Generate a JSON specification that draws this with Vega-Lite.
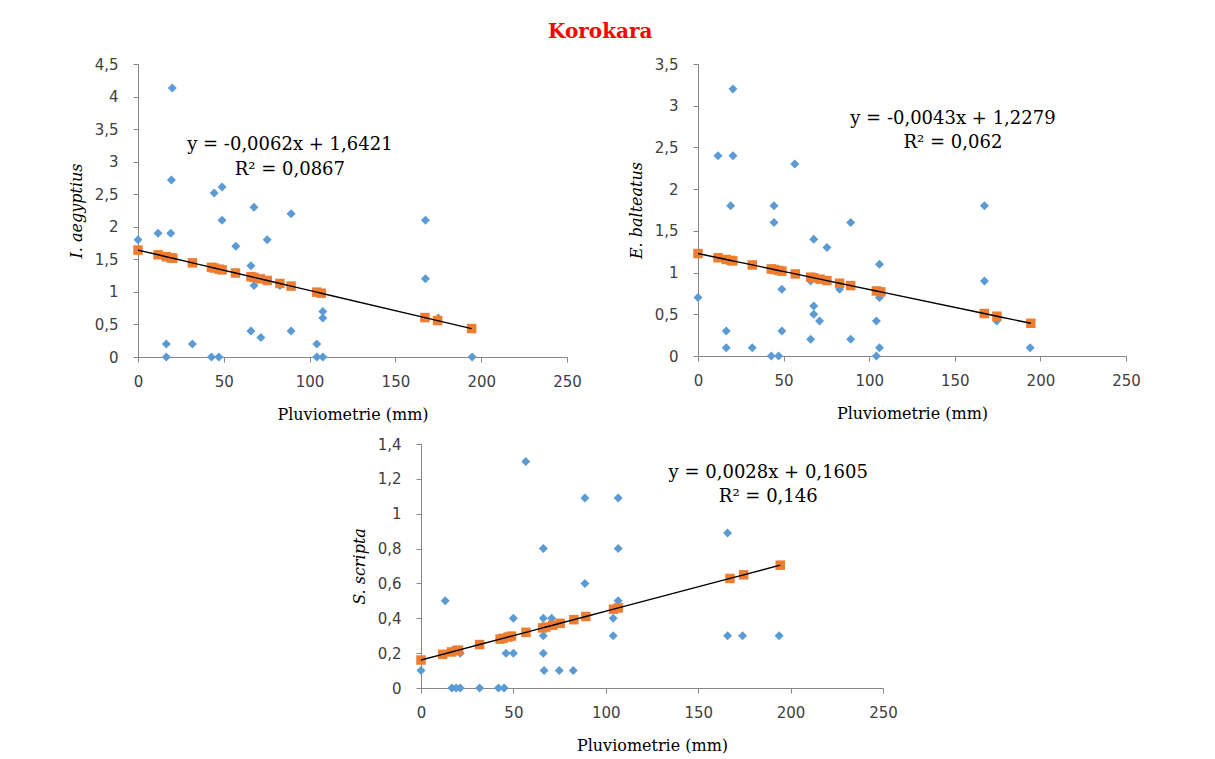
{
  "$schema": "https://vega.github.io/schema/vega-lite/v6.json",
  "background": "white",
  "padding": {"left": 68, "top": 22, "right": 10, "bottom": 10},
  "title": {
    "text": "Korokara",
    "color": "#FF0000",
    "font": "DejaVu Serif",
    "fontWeight": "bold",
    "fontSize": 20,
    "anchor": "middle",
    "offset": 15,
    "dx": -4
  },
  "datasets": {
    "aeg_obs": [
      {"pluie": 0, "val": 1.8}, {"pluie": 11.7, "val": 1.9}, {"pluie": 19.1, "val": 1.9},
      {"pluie": 16.5, "val": 0.2}, {"pluie": 16.5, "val": 0}, {"pluie": 20.0, "val": 4.13},
      {"pluie": 19.5, "val": 2.72}, {"pluie": 31.7, "val": 0.2}, {"pluie": 44.4, "val": 2.52},
      {"pluie": 49.0, "val": 2.61}, {"pluie": 49.0, "val": 2.1}, {"pluie": 42.8, "val": 0},
      {"pluie": 47.1, "val": 0}, {"pluie": 57.0, "val": 1.7}, {"pluie": 65.8, "val": 1.4},
      {"pluie": 67.6, "val": 2.3}, {"pluie": 67.6, "val": 1.1}, {"pluie": 65.8, "val": 0.4},
      {"pluie": 71.6, "val": 0.3}, {"pluie": 75.3, "val": 1.8}, {"pluie": 82.7, "val": 1.1},
      {"pluie": 89.2, "val": 2.2}, {"pluie": 89.2, "val": 0.4}, {"pluie": 104.2, "val": 0.2},
      {"pluie": 104.2, "val": 0}, {"pluie": 107.7, "val": 0}, {"pluie": 107.7, "val": 0.7},
      {"pluie": 107.7, "val": 0.6}, {"pluie": 167.5, "val": 2.1}, {"pluie": 167.5, "val": 1.2},
      {"pluie": 175.0, "val": 0.6}, {"pluie": 194.7, "val": 0}
    ],
    "aeg_fit": [
      {"pluie": 0, "pred": 1.6421}, {"pluie": 11.7, "pred": 1.5696}, {"pluie": 16.5, "pred": 1.5398},
      {"pluie": 19.2, "pred": 1.5231}, {"pluie": 20.3, "pred": 1.5162}, {"pluie": 31.7, "pred": 1.4456},
      {"pluie": 42.8, "pred": 1.3767}, {"pluie": 44.4, "pred": 1.3668}, {"pluie": 47.1, "pred": 1.3501},
      {"pluie": 49.0, "pred": 1.3383}, {"pluie": 56.8, "pred": 1.2899}, {"pluie": 65.8, "pred": 1.2341},
      {"pluie": 67.6, "pred": 1.2230}, {"pluie": 71.3, "pred": 1.2000}, {"pluie": 75.3, "pred": 1.1752},
      {"pluie": 82.7, "pred": 1.1294}, {"pluie": 89.2, "pred": 1.0891}, {"pluie": 104.2, "pred": 0.9961},
      {"pluie": 106.8, "pred": 0.9799}, {"pluie": 167.2, "pred": 0.6055}, {"pluie": 174.6, "pred": 0.5596},
      {"pluie": 194.4, "pred": 0.4368}
    ],
    "bal_obs": [
      {"pluie": 0, "val": 0.7}, {"pluie": 11.7, "val": 2.4}, {"pluie": 20.4, "val": 2.4},
      {"pluie": 20.4, "val": 3.2}, {"pluie": 19.1, "val": 1.8}, {"pluie": 16.5, "val": 0.3},
      {"pluie": 16.5, "val": 0.1}, {"pluie": 31.7, "val": 0.1}, {"pluie": 44.4, "val": 1.8},
      {"pluie": 44.4, "val": 1.6}, {"pluie": 42.8, "val": 0}, {"pluie": 47.1, "val": 0},
      {"pluie": 49.0, "val": 0.8}, {"pluie": 49.0, "val": 0.3}, {"pluie": 56.5, "val": 2.3},
      {"pluie": 65.8, "val": 0.9}, {"pluie": 65.8, "val": 0.2}, {"pluie": 67.6, "val": 1.4},
      {"pluie": 67.6, "val": 0.6}, {"pluie": 67.6, "val": 0.5}, {"pluie": 71.0, "val": 0.42},
      {"pluie": 75.3, "val": 1.3}, {"pluie": 82.7, "val": 0.8}, {"pluie": 89.2, "val": 1.6},
      {"pluie": 89.2, "val": 0.2}, {"pluie": 104.2, "val": 0.42}, {"pluie": 104.2, "val": 0},
      {"pluie": 106.0, "val": 1.1}, {"pluie": 106.0, "val": 0.7}, {"pluie": 106.0, "val": 0.1},
      {"pluie": 167.3, "val": 1.8}, {"pluie": 167.3, "val": 0.9}, {"pluie": 174.5, "val": 0.42},
      {"pluie": 194.0, "val": 0.1}
    ],
    "bal_fit": [
      {"pluie": 0, "pred": 1.2279}, {"pluie": 11.7, "pred": 1.1776}, {"pluie": 16.5, "pred": 1.1570},
      {"pluie": 19.2, "pred": 1.1453}, {"pluie": 20.3, "pred": 1.1406}, {"pluie": 31.7, "pred": 1.0916},
      {"pluie": 42.8, "pred": 1.0439}, {"pluie": 44.4, "pred": 1.0370}, {"pluie": 47.1, "pred": 1.0254},
      {"pluie": 49.0, "pred": 1.0172}, {"pluie": 56.8, "pred": 0.9837}, {"pluie": 65.8, "pred": 0.9450},
      {"pluie": 67.6, "pred": 0.9372}, {"pluie": 71.3, "pred": 0.9213}, {"pluie": 75.3, "pred": 0.9041},
      {"pluie": 82.7, "pred": 0.8723}, {"pluie": 89.2, "pred": 0.8443}, {"pluie": 104.2, "pred": 0.7798},
      {"pluie": 106.8, "pred": 0.7687}, {"pluie": 167.2, "pred": 0.5089}, {"pluie": 174.6, "pred": 0.4771},
      {"pluie": 194.4, "pred": 0.3920}
    ],
    "scr_obs": [
      {"pluie": 0, "val": 0.1}, {"pluie": 13.1, "val": 0.5}, {"pluie": 16.7, "val": 0},
      {"pluie": 19.0, "val": 0}, {"pluie": 21.2, "val": 0}, {"pluie": 21.2, "val": 0.2},
      {"pluie": 31.7, "val": 0}, {"pluie": 41.9, "val": 0}, {"pluie": 45.0, "val": 0},
      {"pluie": 46.0, "val": 0.2}, {"pluie": 50.0, "val": 0.2}, {"pluie": 50.0, "val": 0.4},
      {"pluie": 56.7, "val": 1.3}, {"pluie": 66.2, "val": 0.8}, {"pluie": 66.2, "val": 0.4},
      {"pluie": 66.2, "val": 0.3}, {"pluie": 66.2, "val": 0.2}, {"pluie": 66.6, "val": 0.1},
      {"pluie": 70.7, "val": 0.4}, {"pluie": 74.8, "val": 0.1}, {"pluie": 82.4, "val": 0.1},
      {"pluie": 88.7, "val": 1.09}, {"pluie": 88.7, "val": 0.6}, {"pluie": 104.0, "val": 0.4},
      {"pluie": 104.0, "val": 0.3}, {"pluie": 106.7, "val": 1.09}, {"pluie": 106.7, "val": 0.8},
      {"pluie": 106.7, "val": 0.5}, {"pluie": 165.9, "val": 0.89}, {"pluie": 165.9, "val": 0.3},
      {"pluie": 174.0, "val": 0.3}, {"pluie": 193.8, "val": 0.3}
    ],
    "scr_fit": [
      {"pluie": 0, "pred": 0.1605}, {"pluie": 11.7, "pred": 0.1933}, {"pluie": 16.5, "pred": 0.2067},
      {"pluie": 19.2, "pred": 0.2143}, {"pluie": 20.3, "pred": 0.2173}, {"pluie": 31.7, "pred": 0.2493},
      {"pluie": 42.8, "pred": 0.2803}, {"pluie": 44.4, "pred": 0.2848}, {"pluie": 47.1, "pred": 0.2924},
      {"pluie": 49.0, "pred": 0.2977}, {"pluie": 56.8, "pred": 0.3195}, {"pluie": 65.8, "pred": 0.3447},
      {"pluie": 67.6, "pred": 0.3498}, {"pluie": 71.3, "pred": 0.3601}, {"pluie": 75.3, "pred": 0.3713},
      {"pluie": 82.7, "pred": 0.3921}, {"pluie": 89.2, "pred": 0.4103}, {"pluie": 104.2, "pred": 0.4523},
      {"pluie": 106.8, "pred": 0.4595}, {"pluie": 167.2, "pred": 0.6287}, {"pluie": 174.6, "pred": 0.6494},
      {"pluie": 194.4, "pred": 0.7048}
    ]
  },
  "spacing": 15,
  "vconcat": [
    {
      "spacing": 46,
      "hconcat": [
        {
          "width": 429,
          "height": 293,
          "layer": [
            {
              "data": {"name": "aeg_obs"},
              "mark": {"type": "point", "shape": "diamond", "filled": true, "color": "#5B9BD5", "opacity": 1, "size": 81},
              "encoding": {
                "x": {"field": "pluie", "type": "quantitative", "title": "Pluviometrie (mm)", "scale": {"domain": [0, 250], "nice": false}, "axis": {"values": [0, 50, 100, 150, 200, 250]}},
                "y": {"field": "val", "type": "quantitative", "title": "I. aegyptius", "scale": {"domain": [0, 4.5], "nice": false}, "axis": {"values": [0, 0.5, 1, 1.5, 2, 2.5, 3, 3.5, 4, 4.5]}}
              }
            },
            {
              "data": {"name": "aeg_fit"},
              "mark": {"type": "point", "shape": "square", "filled": true, "color": "#ED7D31", "opacity": 1, "size": 90},
              "encoding": {
                "x": {"field": "pluie", "type": "quantitative", "title": "Pluviometrie (mm)", "scale": {"domain": [0, 250], "nice": false}},
                "y": {"field": "pred", "type": "quantitative", "title": "I. aegyptius", "scale": {"domain": [0, 4.5], "nice": false}}
              }
            },
            {
              "data": {"name": "aeg_fit"},
              "mark": {"type": "line", "color": "#000000", "strokeWidth": 1.4},
              "encoding": {
                "x": {"field": "pluie", "type": "quantitative", "title": "Pluviometrie (mm)", "scale": {"domain": [0, 250], "nice": false}},
                "y": {"field": "pred", "type": "quantitative", "title": "I. aegyptius", "scale": {"domain": [0, 4.5], "nice": false}}
              }
            },
            {
              "data": {"values": [{"panel": "aeg"}]},
              "mark": {"type": "text", "font": "DejaVu Serif", "fontSize": 18, "color": "#000000", "align": "center", "baseline": "middle", "lineHeight": 25},
              "encoding": {
                "x": {"datum": 88.5, "type": "quantitative"},
                "y": {"datum": 3.25, "type": "quantitative"},
                "text": {"value": ["y = -0,0062x + 1,6421", "R² = 0,0867"]}
              }
            }
          ]
        },
        {
          "width": 428,
          "height": 292,
          "layer": [
            {
              "data": {"name": "bal_obs"},
              "mark": {"type": "point", "shape": "diamond", "filled": true, "color": "#5B9BD5", "opacity": 1, "size": 81},
              "encoding": {
                "x": {"field": "pluie", "type": "quantitative", "title": "Pluviometrie (mm)", "scale": {"domain": [0, 250], "nice": false}, "axis": {"values": [0, 50, 100, 150, 200, 250]}},
                "y": {"field": "val", "type": "quantitative", "title": "E. balteatus", "scale": {"domain": [0, 3.5], "nice": false}, "axis": {"values": [0, 0.5, 1, 1.5, 2, 2.5, 3, 3.5]}}
              }
            },
            {
              "data": {"name": "bal_fit"},
              "mark": {"type": "point", "shape": "square", "filled": true, "color": "#ED7D31", "opacity": 1, "size": 90},
              "encoding": {
                "x": {"field": "pluie", "type": "quantitative", "title": "Pluviometrie (mm)", "scale": {"domain": [0, 250], "nice": false}},
                "y": {"field": "pred", "type": "quantitative", "title": "E. balteatus", "scale": {"domain": [0, 3.5], "nice": false}}
              }
            },
            {
              "data": {"name": "bal_fit"},
              "mark": {"type": "line", "color": "#000000", "strokeWidth": 1.4},
              "encoding": {
                "x": {"field": "pluie", "type": "quantitative", "title": "Pluviometrie (mm)", "scale": {"domain": [0, 250], "nice": false}},
                "y": {"field": "pred", "type": "quantitative", "title": "E. balteatus", "scale": {"domain": [0, 3.5], "nice": false}}
              }
            },
            {
              "data": {"values": [{"panel": "bal"}]},
              "mark": {"type": "text", "font": "DejaVu Serif", "fontSize": 18, "color": "#000000", "align": "center", "baseline": "middle", "lineHeight": 24},
              "encoding": {
                "x": {"datum": 148.9, "type": "quantitative"},
                "y": {"datum": 2.845, "type": "quantitative"},
                "text": {"value": ["y = -0,0043x + 1,2279", "R² = 0,062"]}
              }
            }
          ]
        }
      ]
    },
    {
      "spacing": 0,
      "hconcat": [
        {
          "width": 213,
          "height": 10,
          "data": {"values": []},
          "mark": {"type": "point", "opacity": 0},
          "encoding": {}
        },
        {
          "width": 462,
          "height": 244,
          "layer": [
            {
              "data": {"name": "scr_obs"},
              "mark": {"type": "point", "shape": "diamond", "filled": true, "color": "#5B9BD5", "opacity": 1, "size": 81},
              "encoding": {
                "x": {"field": "pluie", "type": "quantitative", "title": "Pluviometrie (mm)", "scale": {"domain": [0, 250], "nice": false}, "axis": {"values": [0, 50, 100, 150, 200, 250]}},
                "y": {"field": "val", "type": "quantitative", "title": "S. scripta", "scale": {"domain": [0, 1.4], "nice": false}, "axis": {"values": [0, 0.2, 0.4, 0.6, 0.8, 1, 1.2, 1.4]}}
              }
            },
            {
              "data": {"name": "scr_fit"},
              "mark": {"type": "point", "shape": "square", "filled": true, "color": "#ED7D31", "opacity": 1, "size": 90},
              "encoding": {
                "x": {"field": "pluie", "type": "quantitative", "title": "Pluviometrie (mm)", "scale": {"domain": [0, 250], "nice": false}},
                "y": {"field": "pred", "type": "quantitative", "title": "S. scripta", "scale": {"domain": [0, 1.4], "nice": false}}
              }
            },
            {
              "data": {"name": "scr_fit"},
              "mark": {"type": "line", "color": "#000000", "strokeWidth": 1.4},
              "encoding": {
                "x": {"field": "pluie", "type": "quantitative", "title": "Pluviometrie (mm)", "scale": {"domain": [0, 250], "nice": false}},
                "y": {"field": "pred", "type": "quantitative", "title": "S. scripta", "scale": {"domain": [0, 1.4], "nice": false}}
              }
            },
            {
              "data": {"values": [{"panel": "scr"}]},
              "mark": {"type": "text", "font": "DejaVu Serif", "fontSize": 18, "color": "#000000", "align": "center", "baseline": "middle", "lineHeight": 24},
              "encoding": {
                "x": {"datum": 187.9, "type": "quantitative"},
                "y": {"datum": 1.234, "type": "quantitative"},
                "text": {"value": ["y = 0,0028x + 0,1605", "R² = 0,146"]}
              }
            }
          ]
        }
      ]
    }
  ],
  "config": {
    "view": {"stroke": null},
    "axis": {
      "grid": false,
      "domainColor": "#868686",
      "domainWidth": 1,
      "tickColor": "#868686",
      "tickSize": 5,
      "tickCount": 30,
      "labelFont": "DejaVu Sans",
      "labelFontSize": 15,
      "labelColor": "#404040",
      "labelExpr": "replace(format(datum.value, '~g'), '.', ',')",
      "titleFont": "DejaVu Serif",
      "titleFontWeight": "normal",
      "titleFontSize": 16,
      "titleColor": "#000000"
    },
    "axisX": {"labelPadding": 12, "titlePadding": 17, "labelFlush": false, "labelOverlap": false},
    "axisY": {"labelPadding": 15, "titlePadding": 10, "titleFontStyle": "italic", "labelOverlap": false}
  }
}
